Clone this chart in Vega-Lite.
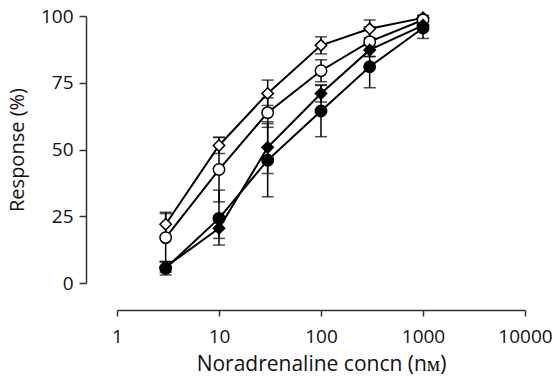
{
  "$schema": "https://vega.github.io/schema/vega-lite/v6.json",
  "width": 408,
  "height": 267,
  "autosize": {"type": "none"},
  "padding": {"left": 117, "top": 16, "right": 31, "bottom": 93},
  "background": "white",
  "config": {
    "view": {"stroke": null},
    "font": "Open Sans",
    "axis": {"grid": false, "domainColor": "#333", "tickColor": "#333", "domainWidth": 1.5, "tickWidth": 1.5, "labelColor": "#111", "titleColor": "#111", "labelFont": "Open Sans", "titleFont": "Open Sans", "titleFontWeight": "normal"}
  },
  "data": {
    "values": [
      {"series": "A", "x": 3, "y": 22, "lo": 17.5, "hi": 26.5},
      {"series": "A", "x": 10, "y": 51.5, "lo": 48.5, "hi": 54.5},
      {"series": "A", "x": 30, "y": 71, "lo": 66.5, "hi": 76},
      {"series": "A", "x": 100, "y": 89, "lo": 85.8, "hi": 92.2},
      {"series": "A", "x": 300, "y": 95.2, "lo": 91.9, "hi": 98.5},
      {"series": "A", "x": 1000, "y": 99.3, "lo": 98.3, "hi": 100.3},
      {"series": "B", "x": 3, "y": 17, "lo": 8, "hi": 26},
      {"series": "B", "x": 10, "y": 42.5, "lo": 30.4, "hi": 54.6},
      {"series": "B", "x": 30, "y": 63.8, "lo": 58.3, "hi": 69.3},
      {"series": "B", "x": 100, "y": 79.5, "lo": 75.4, "hi": 83.6},
      {"series": "B", "x": 300, "y": 90.4, "lo": 84.8, "hi": 96},
      {"series": "B", "x": 1000, "y": 98.5, "lo": 97, "hi": 100},
      {"series": "C", "x": 3, "y": 6, "lo": 4, "hi": 8},
      {"series": "C", "x": 10, "y": 20.5, "lo": 16.7, "hi": 24.3},
      {"series": "C", "x": 30, "y": 50.8, "lo": 41, "hi": 60.4},
      {"series": "C", "x": 100, "y": 71, "lo": 67.8, "hi": 74.2},
      {"series": "C", "x": 300, "y": 87.3, "lo": 84.8, "hi": 89.8},
      {"series": "C", "x": 1000, "y": 96.5, "lo": 94.5, "hi": 98.5},
      {"series": "D", "x": 3, "y": 5.5, "lo": 3, "hi": 8},
      {"series": "D", "x": 10, "y": 24.2, "lo": 14.2, "hi": 34.8},
      {"series": "D", "x": 30, "y": 46, "lo": 32.3, "hi": 59.7},
      {"series": "D", "x": 100, "y": 64.4, "lo": 54.8, "hi": 74},
      {"series": "D", "x": 300, "y": 81, "lo": 73.1, "hi": 88.9},
      {"series": "D", "x": 1000, "y": 95.5, "lo": 91.6, "hi": 99.4}
    ]
  },
  "layer": [
    {
      "mark": {"type": "rule", "color": "black", "strokeWidth": 1.5},
      "encoding": {
        "x": {"field": "x", "type": "quantitative", "scale": {"type": "log", "domain": [1, 10000]},
          "axis": {"values": [1, 10, 100, 1000, 10000], "format": "d", "title": "Noradrenaline concn (nᴍ)", "offset": 27, "tickSize": 6, "labelFontSize": 19, "titleFontSize": 21, "labelPadding": 11, "titlePadding": 7, "labelFlush": false}},
        "y": {"field": "lo", "type": "quantitative", "scale": {"domain": [0, 100], "nice": false},
          "axis": {"values": [0, 25, 50, 75, 100], "title": "Response (%)", "offset": 31, "tickSize": 7, "labelFontSize": 19, "titleFontSize": 20, "labelPadding": 6, "titlePadding": 13}},
        "y2": {"field": "hi"}
      }
    },
    {
      "mark": {"type": "tick", "orient": "horizontal", "color": "black", "size": 12, "thickness": 1.5},
      "encoding": {
        "x": {"field": "x", "type": "quantitative"},
        "y": {"field": "lo", "type": "quantitative"}
      }
    },
    {
      "mark": {"type": "tick", "orient": "horizontal", "color": "black", "size": 12, "thickness": 1.5},
      "encoding": {
        "x": {"field": "x", "type": "quantitative"},
        "y": {"field": "hi", "type": "quantitative"}
      }
    },
    {
      "mark": {"type": "line", "color": "black", "strokeWidth": 2},
      "encoding": {
        "x": {"field": "x", "type": "quantitative"},
        "y": {"field": "y", "type": "quantitative"},
        "detail": {"field": "series"},
        "order": {"field": "x"}
      }
    },
    {
      "mark": {"type": "point", "filled": false, "stroke": "black", "strokeWidth": 1.5, "opacity": 1, "size": 130},
      "encoding": {
        "x": {"field": "x", "type": "quantitative"},
        "y": {"field": "y", "type": "quantitative"},
        "shape": {"field": "series", "type": "nominal", "scale": {"domain": ["A", "B", "C", "D"], "range": ["diamond", "circle", "diamond", "circle"]}, "legend": null},
        "fill": {"field": "series", "type": "nominal", "scale": {"domain": ["A", "B", "C", "D"], "range": ["white", "white", "black", "black"]}, "legend": null}
      }
    }
  ]
}
